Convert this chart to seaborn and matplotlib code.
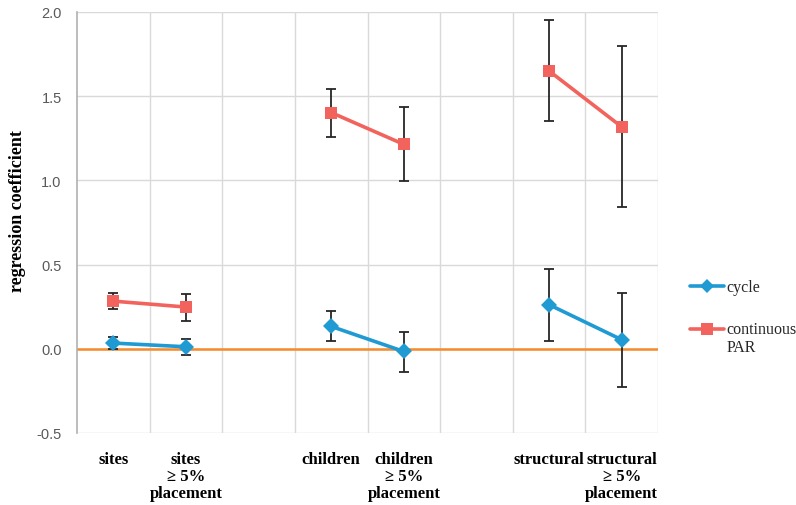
import numpy as np
import pandas as pd
import seaborn as sns
import matplotlib
matplotlib.use("Agg")
import matplotlib.pyplot as plt
from matplotlib.ticker import MultipleLocator, FixedLocator
from matplotlib.lines import Line2D
from matplotlib.legend_handler import HandlerLine2D

# ---- data ----
slots = ["sites", "sites_5", "gap1", "children", "children_5", "gap2", "structural", "structural_5"]
tick_labels = ["sites", "sites\n\u2265 5%\nplacement", "",
               "children", "children\n\u2265 5%\nplacement", "",
               "structural", "structural\n\u2265 5%\nplacement"]
point_slots = ["sites", "sites_5", "children", "children_5", "structural", "structural_5"]
groups = ["sites", "sites", "children", "children", "structural", "structural"]

cycle_val = [0.034, 0.012, 0.133, -0.016, 0.262, 0.054]
cycle_lo = [0.000, -0.036, 0.048, -0.135, 0.048, -0.224]
cycle_hi = [0.071, 0.060, 0.222, 0.101, 0.476, 0.332]

par_val = [0.283, 0.248, 1.403, 1.214, 1.650, 1.318]
par_lo = [0.236, 0.167, 1.258, 0.996, 1.350, 0.840]
par_hi = [0.333, 0.327, 1.542, 1.436, 1.950, 1.800]

series_names = ["cycle", "continuous\nPAR"]
colors = {"cycle": "#1f9ad3", "continuous\nPAR": "#f2635d"}
markers = {"cycle": "D", "continuous\nPAR": "s"}

rows = []
for name, vals, lo, hi in [(series_names[0], cycle_val, cycle_lo, cycle_hi),
                           (series_names[1], par_val, par_lo, par_hi)]:
    for s, g, v, l, h in zip(point_slots, groups, vals, lo, hi):
        rows.append(dict(series=name, slot=s, group=g, x=slots.index(s), y=v, lo=l, hi=h))
df = pd.DataFrame(rows)

sns.set_theme(style="white")
plt.rcParams["font.family"] = ["Liberation Sans", "DejaVu Sans"]

fig = plt.figure(figsize=(7.96, 5.06), dpi=100)
ax = fig.add_axes([77/796, 72/506, 581/796, 421/506])

# error bars (under markers)
for name in series_names:
    d = df[df.series == name]
    ax.errorbar(d.x, d.y, yerr=[d.y - d.lo, d.hi - d.y], fmt="none",
                ecolor="#262626", elinewidth=1.3, capsize=3.5, capthick=1.3, zorder=3)

sns.lineplot(data=df, x="x", y="y", hue="series", units="group", estimator=None,
             hue_order=series_names, palette=colors, style="series", markers=markers,
             dashes=False, linewidth=2.6, markersize=8, markeredgewidth=0,
             legend=False, ax=ax, zorder=4)

ax.axhline(0, color="#f58b2a", linewidth=1.8, zorder=2)

ax.set_xlim(-0.5, 7.5)
ax.set_ylim(-0.5, 2.0)
ax.yaxis.set_major_locator(MultipleLocator(0.5))
ax.set_yticklabels([f"{v:.1f}" for v in ax.get_yticks()])
ax.set_xticks(range(len(slots)))
ax.set_xticklabels(tick_labels, fontfamily=["Liberation Serif"], fontweight="bold",
                   fontsize=12, color="black", multialignment="center", va="top",
                   linespacing=1.08)
ax.xaxis.set_minor_locator(FixedLocator(np.arange(0.5, 7.6, 1.0)))
ax.grid(True, which="major", axis="y", color="#d9d9d9", linewidth=1)
ax.grid(True, which="minor", axis="x", color="#d9d9d9", linewidth=1)
ax.grid(False, which="major", axis="x")
ax.tick_params(axis="both", which="both", length=0)
ax.tick_params(axis="x", pad=13)
ax.tick_params(axis="y", pad=11, labelsize=10.5, labelcolor="#595959")
for sp in ["top", "right", "bottom"]:
    ax.spines[sp].set_visible(False)
ax.spines["left"].set_color("#b0b0b0")
ax.spines["left"].set_linewidth(1.2)
ax.set_xlabel("")
ax.set_ylabel("regression coefficient", fontfamily=["Liberation Serif"], fontweight="bold",
              fontsize=13, color="black")
ax.yaxis.set_label_coords(-0.088, 0.53)


class FirstLineHandler(HandlerLine2D):
    def __init__(self, yoff=0.0, **kw):
        super().__init__(**kw)
        self.yoff = yoff

    def create_artists(self, legend, orig_handle, xdescent, ydescent, width, height,
                       fontsize, trans):
        arts = super().create_artists(legend, orig_handle, xdescent, ydescent, width,
                                      height, fontsize, trans)
        for a in arts:
            a.set_ydata(np.asarray(a.get_ydata(), dtype=float) + self.yoff)
        return arts


handles = [Line2D([], [], color=colors[n], marker=markers[n], linewidth=2.6,
                  markersize=8 if n != "cycle" else 7, markeredgewidth=0) for n in series_names]
leg = fig.legend(handles, series_names, loc="upper left", bbox_to_anchor=(676/796, 1 - 266/506),
                 frameon=False, prop={"family": "Liberation Serif", "size": 11.5},
                 handlelength=2.1, handletextpad=0.15, labelspacing=1.6,
                 handler_map={handles[1]: FirstLineHandler(yoff=7.0)})

fig.savefig("out.png", dpi=100)
